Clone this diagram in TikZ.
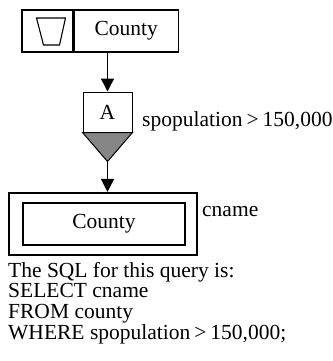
\documentclass[tikz,border=0pt]{standalone}
\usepackage{fontspec}
\setmainfont{Liberation Serif}
\usetikzlibrary{arrows.meta,positioning,calc}

\begin{document}
\begin{tikzpicture}[
  x=1pt,y=-1pt,
  >={Triangle[width=13pt,length=13pt]},
  every node/.style={font=\fontsize{21.5}{20.6}\selectfont,inner sep=0pt},
  cell/.style={rectangle,draw,line width=1.2pt,minimum height=42pt},
  op/.style={rectangle,draw,line width=1pt,minimum width=49pt,minimum height=40pt},
  res/.style={rectangle,draw,line width=2.2pt},
  arc/.style={->,line width=1.5pt}
]
\useasboundingbox (0,0) rectangle (332,361);
% source table
\node[cell,minimum width=51pt] (icon) at (47.5,31) {};
\node[cell,minimum width=104pt,anchor=west] (county) at (icon.east) {County};
\draw[line width=1.1pt] ($(icon.center)+(-11,-13)$) -- ($(icon.center)+(18,-13)$)
  -- ($(icon.center)+(12,14)$) -- ($(icon.center)+(-4,14)$) -- cycle;
% restriction
\node[op] (sel) at (107.5,112) {A};
\coordinate (apex) at ($(sel.south)+(0,29)$);
\draw[line width=1pt,fill=gray!95] (sel.south west) -- (sel.south east) -- (apex) -- cycle;
\node[anchor=base west] (cond) at (142,126) {spopulation\hspace{4pt}>\hspace{4pt}150,000};
% result
\node[res,minimum width=188pt,minimum height=62pt] (outer) at (103,224) {};
\node[res,minimum width=162pt,minimum height=42pt] (inner) at (104,224) {County};
\node[anchor=base west] (attr) at (202,216) {cname};
\draw[arc] (county.south -| sel.north) -- (sel.north);
\draw[arc] (apex) -- (apex |- outer.north);
% query text
\node[anchor=north west,align=left] (sql) at (8,262) {The SQL for this query is:\\
SELECT cname\\
FROM county\\
WHERE spopulation\hspace{4pt}>\hspace{4pt}150,000;};
\end{tikzpicture}
\end{document}
